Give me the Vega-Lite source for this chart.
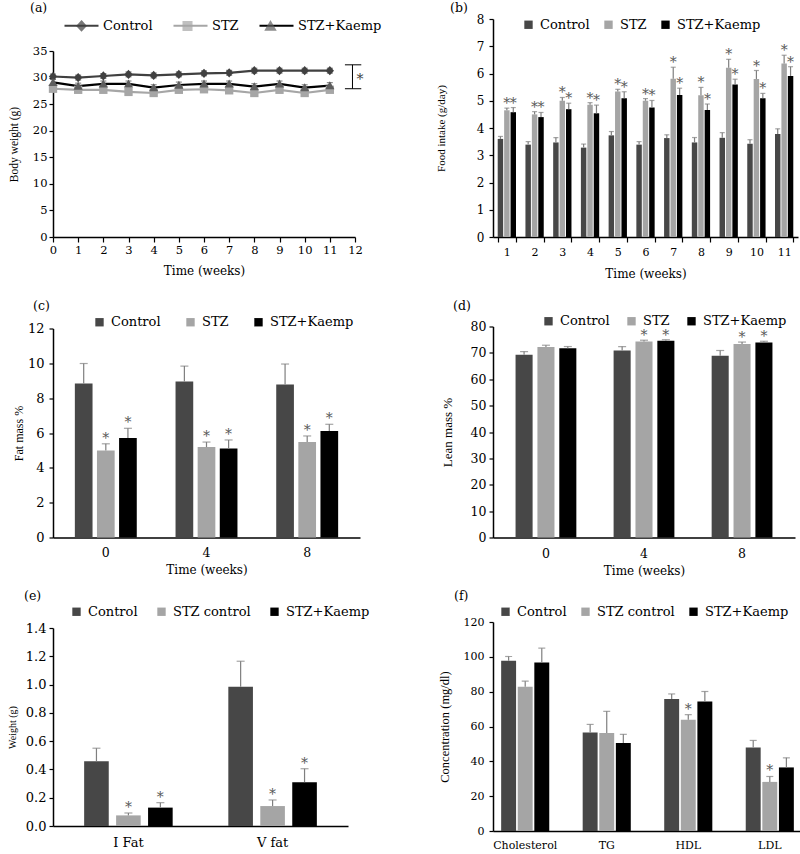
{
  "$schema": "https://vega.github.io/schema/vega-lite/v6.json",
  "background": "white",
  "padding": {"left": 7, "top": 1, "right": 0, "bottom": 0},
  "columns": 2,
  "align": "each",
  "bounds": "full",
  "spacing": {"row": 8.5, "column": 53},
  "resolve": {
    "scale": {"color": "independent", "x": "independent", "y": "independent", "xOffset": "independent", "fill": "independent", "stroke": "independent", "shape": "independent"},
    "legend": {"color": "independent", "fill": "independent", "stroke": "independent", "shape": "independent"},
    "axis": {"x": "independent", "y": "independent"}
  },
  "config": {
    "font": "DejaVu Serif",
    "view": {"stroke": null},
    "axis": {
      "labelFont": "DejaVu Serif", "titleFont": "DejaVu Serif",
      "labelFontSize": 12, "titleFontSize": 12, "titleFontWeight": "normal",
      "labelColor": "#000", "titleColor": "#000", "domainColor": "#000", "tickColor": "#000",
      "domainWidth": 1.5, "tickWidth": 1.2, "tickSize": 4, "grid": false,
      "labelPadding": 2, "labelFlush": false, "labelOverlap": false
    },
    "axisX": {"labelAngle": 0},
    "legend": {"labelFont": "DejaVu Serif", "labelFontSize": 13, "labelColor": "#000"},
    "title": {"font": "DejaVu Serif", "fontSize": 12.5, "fontWeight": "normal", "anchor": "start", "frame": "group", "color": "#000"}
  },
  "datasets": {
    "bw": [
      {"week": 0, "group": "Control", "mean": 30.2, "err": 0.45},
      {"week": 1, "group": "Control", "mean": 30.0, "err": 0.45},
      {"week": 2, "group": "Control", "mean": 30.3, "err": 0.45},
      {"week": 3, "group": "Control", "mean": 30.6, "err": 0.45},
      {"week": 4, "group": "Control", "mean": 30.4, "err": 0.45},
      {"week": 5, "group": "Control", "mean": 30.6, "err": 0.45},
      {"week": 6, "group": "Control", "mean": 30.8, "err": 0.45},
      {"week": 7, "group": "Control", "mean": 30.9, "err": 0.45},
      {"week": 8, "group": "Control", "mean": 31.3, "err": 0.45},
      {"week": 9, "group": "Control", "mean": 31.3, "err": 0.45},
      {"week": 10, "group": "Control", "mean": 31.3, "err": 0.45},
      {"week": 11, "group": "Control", "mean": 31.3, "err": 0.45},
      {"week": 0, "group": "STZ", "mean": 27.9, "err": 0.45},
      {"week": 1, "group": "STZ", "mean": 27.7, "err": 0.45},
      {"week": 2, "group": "STZ", "mean": 27.7, "err": 0.45},
      {"week": 3, "group": "STZ", "mean": 27.3, "err": 0.45},
      {"week": 4, "group": "STZ", "mean": 27.1, "err": 0.45},
      {"week": 5, "group": "STZ", "mean": 27.7, "err": 0.45},
      {"week": 6, "group": "STZ", "mean": 27.8, "err": 0.45},
      {"week": 7, "group": "STZ", "mean": 27.6, "err": 0.45},
      {"week": 8, "group": "STZ", "mean": 27.1, "err": 0.45},
      {"week": 9, "group": "STZ", "mean": 27.7, "err": 0.45},
      {"week": 10, "group": "STZ", "mean": 27.1, "err": 0.45},
      {"week": 11, "group": "STZ", "mean": 27.7, "err": 0.45},
      {"week": 0, "group": "STZ+Kaemp", "mean": 29.1, "err": 0.55},
      {"week": 1, "group": "STZ+Kaemp", "mean": 28.4, "err": 0.55},
      {"week": 2, "group": "STZ+Kaemp", "mean": 28.8, "err": 0.55},
      {"week": 3, "group": "STZ+Kaemp", "mean": 28.8, "err": 0.55},
      {"week": 4, "group": "STZ+Kaemp", "mean": 28.1, "err": 0.55},
      {"week": 5, "group": "STZ+Kaemp", "mean": 28.6, "err": 0.55},
      {"week": 6, "group": "STZ+Kaemp", "mean": 28.8, "err": 0.55},
      {"week": 7, "group": "STZ+Kaemp", "mean": 28.8, "err": 0.55},
      {"week": 8, "group": "STZ+Kaemp", "mean": 28.3, "err": 0.55},
      {"week": 9, "group": "STZ+Kaemp", "mean": 28.8, "err": 0.55},
      {"week": 10, "group": "STZ+Kaemp", "mean": 28.1, "err": 0.55},
      {"week": 11, "group": "STZ+Kaemp", "mean": 28.5, "err": 0.55}
    ],
    "fi": [
      {"cat": 1, "group": "Control", "mean": 3.6, "top": 3.69, "sig": ""},
      {"cat": 1, "group": "STZ", "mean": 4.65, "top": 4.73, "sig": "*"},
      {"cat": 1, "group": "STZ+Kaemp", "mean": 4.58, "top": 4.75, "sig": "*"},
      {"cat": 2, "group": "Control", "mean": 3.39, "top": 3.5, "sig": ""},
      {"cat": 2, "group": "STZ", "mean": 4.5, "top": 4.6, "sig": "*"},
      {"cat": 2, "group": "STZ+Kaemp", "mean": 4.4, "top": 4.57, "sig": "*"},
      {"cat": 3, "group": "Control", "mean": 3.47, "top": 3.65, "sig": ""},
      {"cat": 3, "group": "STZ", "mean": 5.0, "top": 5.12, "sig": "*"},
      {"cat": 3, "group": "STZ+Kaemp", "mean": 4.69, "top": 4.91, "sig": "*"},
      {"cat": 4, "group": "Control", "mean": 3.28, "top": 3.41, "sig": ""},
      {"cat": 4, "group": "STZ", "mean": 4.85, "top": 4.93, "sig": "*"},
      {"cat": 4, "group": "STZ+Kaemp", "mean": 4.54, "top": 4.84, "sig": "*"},
      {"cat": 5, "group": "Control", "mean": 3.73, "top": 3.87, "sig": ""},
      {"cat": 5, "group": "STZ", "mean": 5.34, "top": 5.42, "sig": "*"},
      {"cat": 5, "group": "STZ+Kaemp", "mean": 5.09, "top": 5.33, "sig": "*"},
      {"cat": 6, "group": "Control", "mean": 3.39, "top": 3.5, "sig": ""},
      {"cat": 6, "group": "STZ", "mean": 5.0, "top": 5.08, "sig": "*"},
      {"cat": 6, "group": "STZ+Kaemp", "mean": 4.75, "top": 5.01, "sig": "*"},
      {"cat": 7, "group": "Control", "mean": 3.63, "top": 3.75, "sig": ""},
      {"cat": 7, "group": "STZ", "mean": 5.81, "top": 6.23, "sig": "*"},
      {"cat": 7, "group": "STZ+Kaemp", "mean": 5.21, "top": 5.46, "sig": "*"},
      {"cat": 8, "group": "Control", "mean": 3.47, "top": 3.65, "sig": ""},
      {"cat": 8, "group": "STZ", "mean": 5.2, "top": 5.49, "sig": "*"},
      {"cat": 8, "group": "STZ+Kaemp", "mean": 4.66, "top": 4.88, "sig": "*"},
      {"cat": 9, "group": "Control", "mean": 3.64, "top": 3.83, "sig": ""},
      {"cat": 9, "group": "STZ", "mean": 6.21, "top": 6.52, "sig": "*"},
      {"cat": 9, "group": "STZ+Kaemp", "mean": 5.6, "top": 5.79, "sig": "*"},
      {"cat": 10, "group": "Control", "mean": 3.42, "top": 3.57, "sig": ""},
      {"cat": 10, "group": "STZ", "mean": 5.8, "top": 6.11, "sig": "*"},
      {"cat": 10, "group": "STZ+Kaemp", "mean": 5.09, "top": 5.27, "sig": "*"},
      {"cat": 11, "group": "Control", "mean": 3.78, "top": 3.97, "sig": ""},
      {"cat": 11, "group": "STZ", "mean": 6.37, "top": 6.67, "sig": "*"},
      {"cat": 11, "group": "STZ+Kaemp", "mean": 5.91, "top": 6.25, "sig": "*"}
    ],
    "fm": [
      {"cat": 0, "group": "Control", "mean": 8.84, "top": 9.99, "sig": ""},
      {"cat": 0, "group": "STZ", "mean": 5.0, "top": 5.38, "sig": "*"},
      {"cat": 0, "group": "STZ+Kaemp", "mean": 5.71, "top": 6.27, "sig": "*"},
      {"cat": 4, "group": "Control", "mean": 8.95, "top": 9.84, "sig": ""},
      {"cat": 4, "group": "STZ", "mean": 5.19, "top": 5.48, "sig": "*"},
      {"cat": 4, "group": "STZ+Kaemp", "mean": 5.11, "top": 5.6, "sig": "*"},
      {"cat": 8, "group": "Control", "mean": 8.78, "top": 9.96, "sig": ""},
      {"cat": 8, "group": "STZ", "mean": 5.48, "top": 5.83, "sig": "*"},
      {"cat": 8, "group": "STZ+Kaemp", "mean": 6.12, "top": 6.5, "sig": "*"}
    ],
    "lm": [
      {"cat": 0, "group": "Control", "mean": 69.3, "top": 70.5, "sig": ""},
      {"cat": 0, "group": "STZ", "mean": 72.2, "top": 72.9, "sig": ""},
      {"cat": 0, "group": "STZ+Kaemp", "mean": 71.8, "top": 72.4, "sig": ""},
      {"cat": 4, "group": "Control", "mean": 70.9, "top": 72.4, "sig": ""},
      {"cat": 4, "group": "STZ", "mean": 74.3, "top": 74.8, "sig": "*"},
      {"cat": 4, "group": "STZ+Kaemp", "mean": 74.6, "top": 75.0, "sig": "*"},
      {"cat": 8, "group": "Control", "mean": 68.9, "top": 70.9, "sig": ""},
      {"cat": 8, "group": "STZ", "mean": 73.4, "top": 74.1, "sig": "*"},
      {"cat": 8, "group": "STZ+Kaemp", "mean": 73.9, "top": 74.4, "sig": "*"}
    ],
    "wt": [
      {"cat": "I Fat", "group": "Control", "mean": 0.457, "top": 0.55, "sig": ""},
      {"cat": "I Fat", "group": "STZ control", "mean": 0.075, "top": 0.092, "sig": "*"},
      {"cat": "I Fat", "group": "STZ+Kaemp", "mean": 0.13, "top": 0.165, "sig": "*"},
      {"cat": "V fat", "group": "Control", "mean": 0.985, "top": 1.165, "sig": ""},
      {"cat": "V fat", "group": "STZ control", "mean": 0.141, "top": 0.184, "sig": "*"},
      {"cat": "V fat", "group": "STZ+Kaemp", "mean": 0.31, "top": 0.405, "sig": "*"}
    ],
    "lip": [
      {"cat": "Cholesterol", "group": "Control", "mean": 97.7, "top": 100.2, "sig": ""},
      {"cat": "Cholesterol", "group": "STZ control", "mean": 82.8, "top": 86.0, "sig": ""},
      {"cat": "Cholesterol", "group": "STZ+Kaemp", "mean": 96.8, "top": 105.0, "sig": ""},
      {"cat": "TG", "group": "Control", "mean": 56.6, "top": 61.2, "sig": ""},
      {"cat": "TG", "group": "STZ control", "mean": 56.3, "top": 68.7, "sig": ""},
      {"cat": "TG", "group": "STZ+Kaemp", "mean": 50.5, "top": 55.5, "sig": ""},
      {"cat": "HDL", "group": "Control", "mean": 75.8, "top": 78.7, "sig": ""},
      {"cat": "HDL", "group": "STZ control", "mean": 63.9, "top": 66.8, "sig": "*"},
      {"cat": "HDL", "group": "STZ+Kaemp", "mean": 74.3, "top": 80.1, "sig": ""},
      {"cat": "LDL", "group": "Control", "mean": 48.0, "top": 52.0, "sig": ""},
      {"cat": "LDL", "group": "STZ control", "mean": 28.2, "top": 31.3, "sig": "*"},
      {"cat": "LDL", "group": "STZ+Kaemp", "mean": 36.5, "top": 42.0, "sig": ""}
    ]
  },
  "concat": [
    {
      "width": 302, "height": 218,
      "title": {"text": "(a)", "dx": -23, "offset": -7},
      "data": {"name": "bw"},
      "layer": [
        {
          "mark": {"type": "errorbar", "ticks": {"size": 6}, "thickness": 1.2},
          "encoding": {
            "x": {"field": "week", "type": "quantitative", "scale": {"domain": [0, 12]},
                  "axis": {"title": ["Time (weeks)", " "], "titleLineHeight": 12, "values": [0,1,2,3,4,5,6,7,8,9,10,11,12], "tickSize": 5, "labelFontSize": 11.5, "titlePadding": 10}},
            "y": {"field": "mean", "type": "quantitative", "scale": {"domain": [0, 35], "range": [218, 32]},
                  "axis": {"title": "Body weight (g)", "values": [0,5,10,15,20,25,30,35], "labelFontSize": 11.5, "titleFont": "Liberation Serif", "titleFontSize": 11.5, "titlePadding": 13}},
            "yError": {"field": "err"},
            "color": {"field": "group", "type": "nominal", "scale": {"domain": ["Control", "STZ", "STZ+Kaemp"], "range": ["#404040", "#a6a6a6", "#5e5e5e"]},
                      "legend": {"title": null, "orient": "none", "legendX": 10, "legendY": -12, "direction": "horizontal", "symbolSize": 1156, "symbolStrokeWidth": 2.2, "symbolStrokeColor": "transparent", "labelOffset": 3, "columnPadding": 16, "labelOpacity": 0, "zindex": 1}}
          }
        },
        {
          "mark": {"type": "line", "strokeWidth": 2.2},
          "encoding": {
            "x": {"field": "week", "type": "quantitative", "scale": {"domain": [0, 12]},
                  "axis": {"title": ["Time (weeks)", " "], "titleLineHeight": 12, "values": [0,1,2,3,4,5,6,7,8,9,10,11,12], "tickSize": 5, "labelFontSize": 11.5, "titlePadding": 10}},
            "y": {"field": "mean", "type": "quantitative", "scale": {"domain": [0, 35], "range": [218, 32]},
                  "axis": {"title": "Body weight (g)", "values": [0,5,10,15,20,25,30,35], "labelFontSize": 11.5, "titleFont": "Liberation Serif", "titleFontSize": 11.5, "titlePadding": 13}},
            "stroke": {"field": "group", "type": "nominal", "scale": {"range": ["#404040", "#a6a6a6", "#000000"]},
                       "legend": {"title": null, "orient": "none", "legendX": 10, "legendY": -12, "direction": "horizontal", "symbolType": "stroke", "symbolSize": 1156, "symbolStrokeWidth": 2.2, "labelOffset": 3, "columnPadding": 16, "zindex": 0}}
          }
        },
        {
          "mark": {"type": "point", "filled": true, "size": 1310, "opacity": 1},
          "encoding": {
            "x": {"field": "week", "type": "quantitative", "scale": {"domain": [0, 12]},
                  "axis": {"title": ["Time (weeks)", " "], "titleLineHeight": 12, "values": [0,1,2,3,4,5,6,7,8,9,10,11,12], "tickSize": 5, "labelFontSize": 11.5, "titlePadding": 10}},
            "y": {"field": "mean", "type": "quantitative", "scale": {"domain": [0, 35], "range": [218, 32]},
                  "axis": {"title": "Body weight (g)", "values": [0,5,10,15,20,25,30,35], "labelFontSize": 11.5, "titleFont": "Liberation Serif", "titleFontSize": 11.5, "titlePadding": 13}},
            "color": {"field": "group", "type": "nominal", "scale": {"domain": ["Control", "STZ", "STZ+Kaemp"], "range": ["#404040", "#a6a6a6", "#5e5e5e"]},
                      "legend": {"title": null, "orient": "none", "legendX": 10, "legendY": -12, "direction": "horizontal", "symbolSize": 1156, "symbolStrokeWidth": 2.2, "symbolStrokeColor": "transparent", "labelOffset": 3, "columnPadding": 16, "labelOpacity": 0, "zindex": 1}},
            "shape": {"field": "group", "type": "nominal", "scale": {"domain": ["Control", "STZ", "STZ+Kaemp"], "range": ["M0,-0.255L0.23,0L0,0.255L-0.23,0Z", "M-0.23,-0.23H0.23V0.23H-0.23Z", "M0,-0.24L0.255,0.2H-0.255Z"]},
                      "legend": {"title": null, "orient": "none", "legendX": 10, "legendY": -12, "direction": "horizontal", "symbolSize": 1156, "symbolStrokeWidth": 2.2, "symbolStrokeColor": "transparent", "labelOffset": 3, "columnPadding": 16, "labelOpacity": 0, "zindex": 1}}
          }
        },
        {
          "data": {"values": [{}]},
          "mark": {"type": "rule", "color": "#000000", "strokeWidth": 1},
          "encoding": {
            "x": {"datum": 11.9, "axis": {"title": ["Time (weeks)", " "], "titleLineHeight": 12, "values": [0,1,2,3,4,5,6,7,8,9,10,11,12], "tickSize": 5, "labelFontSize": 11.5, "titlePadding": 10}},
            "y": {"datum": 27.9, "axis": {"title": "Body weight (g)", "values": [0,5,10,15,20,25,30,35], "labelFontSize": 11.5, "titleFont": "Liberation Serif", "titleFontSize": 11.5, "titlePadding": 13}},
            "y2": {"datum": 32.4}
          }
        },
        {
          "data": {"values": [{}]},
          "mark": {"type": "rule", "color": "#000000", "strokeWidth": 1},
          "encoding": {
            "x": {"datum": 11.6, "axis": {"title": ["Time (weeks)", " "], "titleLineHeight": 12, "values": [0,1,2,3,4,5,6,7,8,9,10,11,12], "tickSize": 5, "labelFontSize": 11.5, "titlePadding": 10}},
            "x2": {"datum": 12.25},
            "y": {"datum": 32.4, "axis": {"title": "Body weight (g)", "values": [0,5,10,15,20,25,30,35], "labelFontSize": 11.5, "titleFont": "Liberation Serif", "titleFontSize": 11.5, "titlePadding": 13}}
          }
        },
        {
          "data": {"values": [{}]},
          "mark": {"type": "rule", "color": "#000000", "strokeWidth": 1},
          "encoding": {
            "x": {"datum": 11.6, "axis": {"title": ["Time (weeks)", " "], "titleLineHeight": 12, "values": [0,1,2,3,4,5,6,7,8,9,10,11,12], "tickSize": 5, "labelFontSize": 11.5, "titlePadding": 10}},
            "x2": {"datum": 12.25},
            "y": {"datum": 27.9, "axis": {"title": "Body weight (g)", "values": [0,5,10,15,20,25,30,35], "labelFontSize": 11.5, "titleFont": "Liberation Serif", "titleFontSize": 11.5, "titlePadding": 13}}
          }
        },
        {
          "data": {"values": [{}]},
          "mark": {"type": "text", "text": "*", "color": "#404040", "fontSize": 14, "baseline": "middle", "dy": 3},
          "encoding": {
            "x": {"datum": 12.2, "axis": {"title": ["Time (weeks)", " "], "titleLineHeight": 12, "values": [0,1,2,3,4,5,6,7,8,9,10,11,12], "tickSize": 5, "labelFontSize": 11.5, "titlePadding": 10}},
            "y": {"datum": 30.2, "axis": {"title": "Body weight (g)", "values": [0,5,10,15,20,25,30,35], "labelFontSize": 11.5, "titleFont": "Liberation Serif", "titleFontSize": 11.5, "titlePadding": 13}}
          }
        }
      ]
    },
    {
      "width": 305, "height": 218,
      "title": {"text": "(b)", "dx": -43, "offset": -1.5},
      "data": {"name": "fi"},
      "encoding": {
        "x": {"field": "cat", "type": "ordinal", "scale": {"paddingInner": 0.34, "paddingOuter": 0.17},
              "axis": {"title": ["Time (weeks)", " "], "titleLineHeight": 12, "tickBand": "extent", "tickSize": 5, "labelPadding": 4, "labelFontSize": 11, "titlePadding": 11}},
        "xOffset": {"field": "group", "type": "nominal", "scale": {"domain": ["Control", "STZ", "STZ+Kaemp"], "paddingInner": 0.15, "paddingOuter": 0}},
        "y": {"field": "mean", "type": "quantitative", "scale": {"domain": [0, 8]},
              "axis": {"title": "Food intake (g/day)", "values": [0,1,2,3,4,5,6,7,8], "labelFontSize": 12, "labelPadding": 5, "titleFont": "Liberation Serif", "titleFontSize": 11, "titlePadding": 30}}
      },
      "layer": [
        {
          "mark": {"type": "bar"},
          "encoding": {
            "color": {"field": "group", "type": "nominal", "scale": {"domain": ["Control", "STZ", "STZ+Kaemp"], "range": ["#474747", "#a5a5a5", "#000000"]},
                      "legend": {"title": null, "orient": "none", "legendX": 29, "legendY": -1, "direction": "horizontal", "symbolType": "square", "symbolSize": 70, "symbolStrokeWidth": 0, "labelOffset": 5, "columnPadding": 12}}
          }
        },
        {"mark": {"type": "rule", "color": "#7f7f7f", "strokeWidth": 1.2}, "encoding": {"y2": {"field": "top"}}},
        {"mark": {"type": "tick", "color": "#7f7f7f", "thickness": 1.2, "size": 5}, "encoding": {"y": {"field": "top", "type": "quantitative"}}},
        {"mark": {"type": "text", "color": "#595959", "fontSize": 14, "dy": 0, "baseline": "alphabetic"}, "encoding": {"y": {"field": "top", "type": "quantitative"}, "text": {"field": "sig"}}}
      ]
    },
    {
      "width": 307, "height": 211,
      "title": {"text": "(c)", "dx": -20, "offset": 3},
      "data": {"name": "fm"},
      "encoding": {
        "x": {"field": "cat", "type": "ordinal", "scale": {"paddingInner": 0.385, "paddingOuter": 0.217},
              "axis": {"title": ["Time (weeks)", " "], "titleLineHeight": 4, "ticks": false, "labelPadding": 9, "labelFontSize": 12.5, "titlePadding": 5}},
        "xOffset": {"field": "group", "type": "nominal", "scale": {"domain": ["Control", "STZ", "STZ+Kaemp"], "paddingInner": 0.2, "paddingOuter": 0}},
        "y": {"field": "mean", "type": "quantitative", "scale": {"domain": [0, 12], "range": [211, 2]},
              "axis": {"title": "Fat mass %", "values": [0,2,4,6,8,10,12], "labelFontSize": 13, "labelPadding": 5, "titleFont": "Liberation Serif", "titleFontSize": 12, "titlePadding": 2}}
      },
      "layer": [
        {
          "mark": {"type": "bar"},
          "encoding": {
            "color": {"field": "group", "type": "nominal", "scale": {"domain": ["Control", "STZ", "STZ+Kaemp"], "range": ["#474747", "#a5a5a5", "#000000"]},
                      "legend": {"title": null, "orient": "none", "legendX": 40, "legendY": -11, "direction": "horizontal", "symbolType": "square", "symbolSize": 70, "symbolStrokeWidth": 0, "labelOffset": 5, "columnPadding": 23}}
          }
        },
        {"mark": {"type": "rule", "color": "#7f7f7f", "strokeWidth": 1.2}, "encoding": {"y2": {"field": "top"}}},
        {"mark": {"type": "tick", "color": "#7f7f7f", "thickness": 1.2, "size": 8}, "encoding": {"y": {"field": "top", "type": "quantitative"}}},
        {"mark": {"type": "text", "color": "#595959", "fontSize": 14, "dy": -1, "baseline": "alphabetic"}, "encoding": {"y": {"field": "top", "type": "quantitative"}, "text": {"field": "sig"}}}
      ]
    },
    {
      "width": 302, "height": 211,
      "title": {"text": "(d)", "dx": -40, "offset": 2},
      "data": {"name": "lm"},
      "encoding": {
        "x": {"field": "cat", "type": "ordinal", "scale": {"paddingInner": 0.38, "paddingOuter": 0.23},
              "axis": {"title": ["Time (weeks)", " "], "titleLineHeight": 4, "ticks": false, "labelPadding": 10, "labelFontSize": 12.5, "titlePadding": 5}},
        "xOffset": {"field": "group", "type": "nominal", "scale": {"domain": ["Control", "STZ", "STZ+Kaemp"], "paddingInner": 0.22, "paddingOuter": 0}},
        "y": {"field": "mean", "type": "quantitative", "scale": {"domain": [0, 80]},
              "axis": {"title": "Lean mass %", "values": [0,10,20,30,40,50,60,70,80], "labelFontSize": 12.5, "labelPadding": 3, "titleFont": "Liberation Serif", "titleFontSize": 13, "titlePadding": 16}}
      },
      "layer": [
        {
          "mark": {"type": "bar"},
          "encoding": {
            "color": {"field": "group", "type": "nominal", "scale": {"domain": ["Control", "STZ", "STZ+Kaemp"], "range": ["#474747", "#a5a5a5", "#000000"]},
                      "legend": {"title": null, "orient": "none", "legendX": 49, "legendY": -12, "direction": "horizontal", "symbolType": "square", "symbolSize": 70, "symbolStrokeWidth": 0, "labelOffset": 5, "columnPadding": 15}}
          }
        },
        {"mark": {"type": "rule", "color": "#7f7f7f", "strokeWidth": 1.2}, "encoding": {"y2": {"field": "top"}}},
        {"mark": {"type": "tick", "color": "#7f7f7f", "thickness": 1.2, "size": 8}, "encoding": {"y": {"field": "top", "type": "quantitative"}}},
        {"mark": {"type": "text", "color": "#595959", "fontSize": 14, "dy": 0, "baseline": "alphabetic"}, "encoding": {"y": {"field": "top", "type": "quantitative"}, "text": {"field": "sig"}}}
      ]
    },
    {
      "width": 295, "height": 204,
      "title": {"text": "(e)", "dx": -29, "offset": 3},
      "data": {"name": "wt"},
      "encoding": {
        "x": {"field": "cat", "type": "nominal", "scale": {"paddingInner": 0.386, "paddingOuter": 0.216},
              "axis": {"title": null, "ticks": false, "labelPadding": 10, "labelFontSize": 13}},
        "xOffset": {"field": "group", "type": "nominal", "scale": {"domain": ["Control", "STZ control", "STZ+Kaemp"], "paddingInner": 0.23, "paddingOuter": 0}},
        "y": {"field": "mean", "type": "quantitative", "scale": {"domain": [0, 1.4], "range": [204, 6]},
              "axis": {"title": "Weight (g)", "values": [0,0.2,0.4,0.6,0.8,1.0,1.2,1.4], "format": ".1f", "labelFontSize": 13, "labelPadding": 3, "titleFont": "Liberation Serif", "titleFontSize": 10, "titlePadding": 8}}
      },
      "layer": [
        {
          "mark": {"type": "bar"},
          "encoding": {
            "color": {"field": "group", "type": "nominal", "scale": {"domain": ["Control", "STZ control", "STZ+Kaemp"], "range": ["#474747", "#a5a5a5", "#000000"]},
                      "legend": {"title": null, "orient": "none", "legendX": 17, "legendY": -17, "direction": "horizontal", "symbolType": "square", "symbolSize": 70, "symbolStrokeWidth": 0, "labelOffset": 5, "columnPadding": 17}}
          }
        },
        {"mark": {"type": "rule", "color": "#7f7f7f", "strokeWidth": 1.2}, "encoding": {"y2": {"field": "top"}}},
        {"mark": {"type": "tick", "color": "#7f7f7f", "thickness": 1.2, "size": 8}, "encoding": {"y": {"field": "top", "type": "quantitative"}}},
        {"mark": {"type": "text", "color": "#595959", "fontSize": 14, "dy": -1, "baseline": "alphabetic"}, "encoding": {"y": {"field": "top", "type": "quantitative"}, "text": {"field": "sig"}}}
      ]
    },
    {
      "width": 309, "height": 209,
      "title": {"text": "(f)", "dx": -39, "offset": 3},
      "data": {"name": "lip"},
      "encoding": {
        "x": {"field": "cat", "type": "nominal", "sort": ["Cholesterol", "TG", "HDL", "LDL"], "scale": {"paddingInner": 0.41, "paddingOuter": 0.1},
              "axis": {"title": null, "ticks": false, "labelPadding": 8, "labelFontSize": 11}},
        "xOffset": {"field": "group", "type": "nominal", "scale": {"domain": ["Control", "STZ control", "STZ+Kaemp"], "paddingInner": 0.1, "paddingOuter": 0}},
        "y": {"field": "mean", "type": "quantitative", "scale": {"domain": [0, 120]},
              "axis": {"title": "Concentration (mg/dl)", "values": [0,20,40,60,80,100,120], "labelFontSize": 11, "labelPadding": 5, "titleFont": "Liberation Serif", "titleFontSize": 12.5, "titlePadding": 12}}
      },
      "layer": [
        {
          "mark": {"type": "bar"},
          "encoding": {
            "color": {"field": "group", "type": "nominal", "scale": {"domain": ["Control", "STZ control", "STZ+Kaemp"], "range": ["#474747", "#a5a5a5", "#000000"]},
                      "legend": {"title": null, "orient": "none", "legendX": 6, "legendY": -17, "direction": "horizontal", "symbolType": "square", "symbolSize": 70, "symbolStrokeWidth": 0, "labelOffset": 5, "columnPadding": 12}}
          }
        },
        {"mark": {"type": "rule", "color": "#7f7f7f", "strokeWidth": 1.2}, "encoding": {"y2": {"field": "top"}}},
        {"mark": {"type": "tick", "color": "#7f7f7f", "thickness": 1.2, "size": 7}, "encoding": {"y": {"field": "top", "type": "quantitative"}}},
        {"mark": {"type": "text", "color": "#595959", "fontSize": 14, "dy": -1, "baseline": "alphabetic"}, "encoding": {"y": {"field": "top", "type": "quantitative"}, "text": {"field": "sig"}}}
      ]
    }
  ]
}
